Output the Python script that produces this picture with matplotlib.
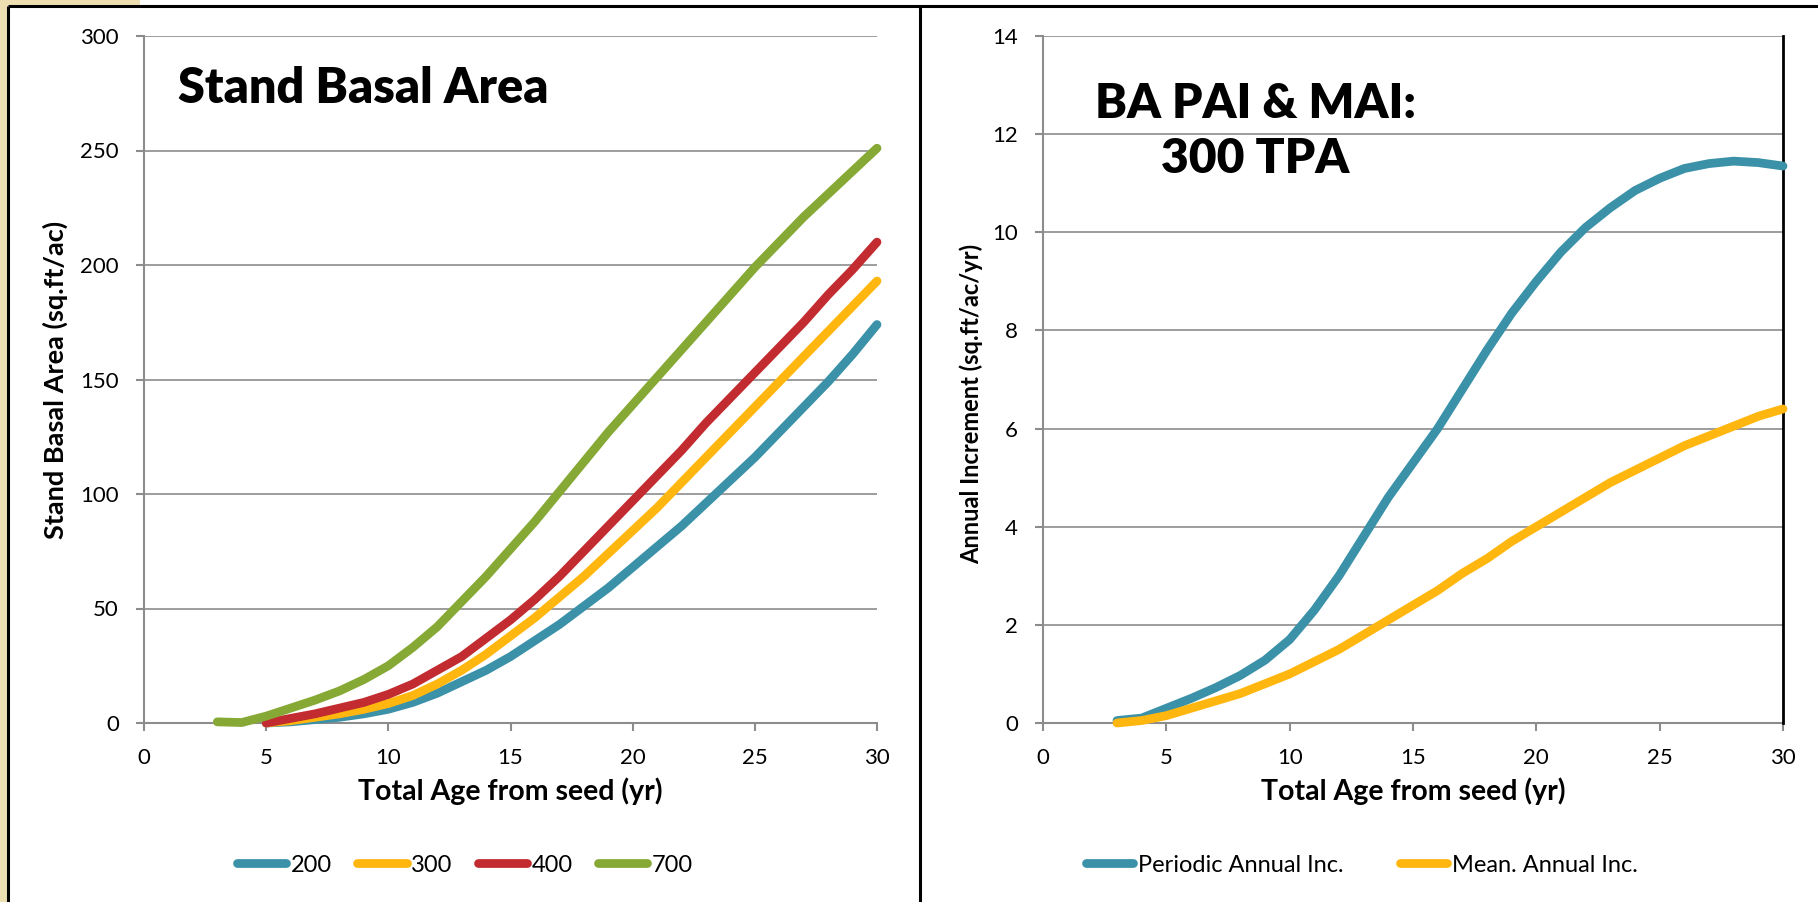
import matplotlib
matplotlib.use("Agg")
import matplotlib.pyplot as plt
from matplotlib.lines import Line2D
from matplotlib.patches import Rectangle

plt.rcParams["font.family"] = ["Lato", "DejaVu Sans"]

# ---- data -------------------------------------------------------------
age_700 = list(range(3, 31))
ba_700 = [0.5, 0.2, 3, 6.5, 10, 14, 19, 25, 33, 42, 53, 64, 76, 88, 101, 114,
          127, 139, 151, 163, 175, 187, 199, 210, 221, 231, 241, 251]

age_low = list(range(5, 31))
ba_400 = [0, 2, 4, 6.5, 9, 12.5, 17, 23, 29, 37, 45, 54, 64, 75, 86, 97, 108,
          119, 131, 142, 153, 164, 175, 187, 198, 210]
ba_300 = [0, 1, 2.5, 4, 6, 8.5, 12, 17, 23, 30, 38, 46, 55, 64, 74, 84, 94,
          105, 116, 127, 138, 149, 160, 171, 182, 193]
ba_200 = [0, 0.5, 1.5, 2.5, 4, 6, 9, 13, 18, 23, 29, 36, 43, 51, 59, 68, 77,
          86, 96, 106, 116, 127, 138, 149, 161, 174]
tpa_labels = ["200", "300", "400", "700"]

age_inc = list(range(3, 31))
pai = [0.05, 0.1, 0.3, 0.5, 0.72, 0.97, 1.28, 1.7, 2.3, 3.0, 3.8, 4.6, 5.3,
       6.0, 6.8, 7.6, 8.35, 9.0, 9.6, 10.1, 10.5, 10.85, 11.1, 11.3, 11.4,
       11.45, 11.42, 11.35]
mai = [0.0, 0.05, 0.15, 0.3, 0.45, 0.6, 0.8, 1.0, 1.25, 1.5, 1.8, 2.1, 2.4,
       2.7, 3.05, 3.35, 3.7, 4.0, 4.3, 4.6, 4.9, 5.15, 5.4, 5.65, 5.85, 6.05,
       6.25, 6.4]
inc_labels = ["Periodic Annual Inc.", "Mean. Annual Inc."]

x_ticks = [0, 5, 10, 15, 20, 25, 30]
ba_ticks = [0, 50, 100, 150, 200, 250, 300]
inc_ticks = [0, 2, 4, 6, 8, 10, 12, 14]

# ---- style ------------------------------------------------------------
TEAL = "#3A91A8"
GOLD = "#FFB70F"
RED = "#C22B2F"
GREEN = "#86A935"
GRID = "#8C8C8C"
LW = 6.3

W, H = 1818, 902
fig = plt.figure(figsize=(W / 100, H / 100), dpi=100)
fig.patch.set_facecolor("white")

# slide background strip and panel frame lines
fig.patches.append(Rectangle((0, 0), 8 / W, 1, transform=fig.transFigure,
                             facecolor="#EEDFB3", edgecolor="none", zorder=0))
fig.patches.append(Rectangle((0, 1 - 6 / H), 140 / W, 6 / H,
                             transform=fig.transFigure, facecolor="#EEDFB3",
                             edgecolor="none", zorder=0))
for xs, ys in [((8 / W, 1), (1 - 6 / H, 1 - 6 / H)),
               ((8 / W, 8 / W), (0, 1 - 6 / H)),
               ((920 / W, 920 / W), (0, 1 - 6 / H))]:
    fig.add_artist(Line2D(xs, ys, transform=fig.transFigure, color="black",
                          lw=2.2, solid_capstyle="butt"))


def style_axes(ax, yticks):
    ax.set_xlim(0, 30)
    ax.set_ylim(yticks[0], yticks[-1])
    ax.set_xticks(x_ticks)
    ax.set_yticks(yticks)
    ax.grid(axis="y", color=GRID, lw=1.2)
    ax.set_axisbelow(True)
    for s in ("top", "right"):
        ax.spines[s].set_visible(False)
    for s in ("left", "bottom"):
        ax.spines[s].set_color(GRID)
        ax.spines[s].set_linewidth(1.5)
    ax.tick_params(axis="both", direction="out", length=6, width=1.5,
                   color=GRID, labelsize=16, labelcolor="black")
    ax.tick_params(axis="y", pad=12)
    ax.tick_params(axis="x", pad=12)
    ax.set_xlabel("Total Age from seed (yr)", fontsize=20.5,
                  fontweight="bold", labelpad=7)


# ---- left panel: stand basal area ------------------------------------
ax1 = fig.add_axes([144 / W, 1 - 723 / H, 733 / W, 687 / H])
style_axes(ax1, ba_ticks)
series = [(age_low, ba_200, TEAL), (age_low, ba_300, GOLD),
          (age_low, ba_400, RED), (age_700, ba_700, GREEN)]
handles = []
for (xv, yv, c), lab in zip(series, tpa_labels):
    h, = ax1.plot(xv, yv, color=c, lw=LW, solid_capstyle="round",
                  solid_joinstyle="round", clip_on=False, zorder=3, label=lab)
    handles.append(h)
ax1.set_ylabel("Stand Basal Area (sq.ft/ac)", fontsize=19.5,
               fontweight="bold")
ax1.yaxis.set_label_coords(-0.104, 0.5)
ax1.text(0.0464, 0.9025, "Stand Basal Area", transform=ax1.transAxes,
         fontsize=35, fontweight="heavy", va="baseline", ha="left")
fig.legend(handles=handles, loc="center", ncol=4,
           bbox_to_anchor=(465 / W, 1 - 865 / H), frameon=False, fontsize=17,
           handlelength=2.1, handletextpad=0.2, columnspacing=1.05,
           borderaxespad=0)

# ---- right panel: increments ------------------------------------------
ax2 = fig.add_axes([1043 / W, 1 - 723 / H, 740 / W, 687 / H])
style_axes(ax2, inc_ticks)
ax2.plot([30, 30], [0, 14], color="black", lw=2, clip_on=False, zorder=2.6)
h1, = ax2.plot(age_inc, pai, color=TEAL, lw=LW, solid_capstyle="round",
               solid_joinstyle="round", clip_on=False, zorder=3,
               label=inc_labels[0])
h2, = ax2.plot(age_inc, mai, color=GOLD, lw=LW, solid_capstyle="round",
               solid_joinstyle="round", clip_on=False, zorder=3,
               label=inc_labels[1])
ax2.set_ylabel("Annual Increment (sq.ft/ac/yr)", fontsize=17,
               fontweight="bold")
ax2.yaxis.set_label_coords(-0.081, 0.465)
ax2.text(0.2865, 0.8806, "BA PAI & MAI:", transform=ax2.transAxes,
         fontsize=34.5, fontweight="heavy", va="baseline", ha="center")
ax2.text(0.2865, 0.8006, "300 TPA", transform=ax2.transAxes,
         fontsize=34.5, fontweight="heavy", va="baseline", ha="center")
fig.legend(handles=[h1, h2], loc="center", ncol=2,
           bbox_to_anchor=(1362 / W, 1 - 865 / H), frameon=False, fontsize=17,
           handlelength=2.0, handletextpad=0.2, columnspacing=2.4,
           borderaxespad=0)

fig.savefig("out.png", dpi=100)
